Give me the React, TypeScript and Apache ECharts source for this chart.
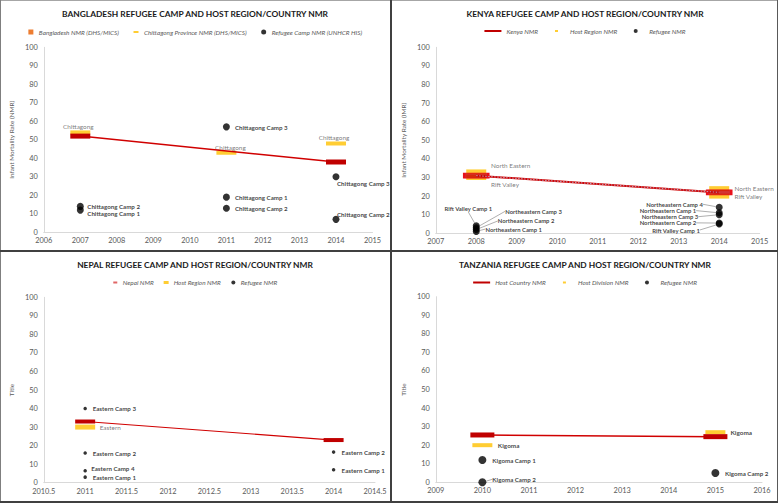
import React, { useEffect, useRef } from "react";
import * as echarts from "echarts";

const FONT = "Lato, 'Open Sans', 'DejaVu Sans', sans-serif";
const RED = "#C00000";
const YELLOW = "#FFC000";
const BLACK = "#000000";
const ORANGE = "#ED7D31";
const AXIS_GRAY = "#D9D9D9";
const TEXT_GRAY = "#595959";

// ---------------- Bangladesh ----------------
const bdTitle = "BANGLADESH REFUGEE CAMP AND HOST REGION/COUNTRY NMR";
const bdNames = ["Bangladesh NMR (DHS/MICS)", "Chittagong Province NMR (DHS/MICS)", "Refugee Camp NMR (UNHCR HIS)"];
const bdYAxisName = "Infant Mortality Rate (NMR)";
const bdXRange = [2006, 2015, 1];
const bdNationalYears = [2007, 2014];
const bdNationalValues = [52, 38];
const bdRegionYears = [2007, 2011, 2014];
const bdRegionValues = [54, 43, 48];
const bdRegionNames = ["Chittagong", "Chittagong", "Chittagong"];
const bdCampYears = [2007, 2007, 2011, 2011, 2011, 2014, 2014];
const bdCampValues = [14, 12, 57, 19, 13, 30, 7];
const bdCampNames = ["Chittagong Camp 2", "Chittagong Camp 1", "Chittagong Camp 3", "Chittagong Camp 1", "Chittagong Camp 2", "Chittagong Camp 3", "Chittagong Camp 2"];

// ---------------- Kenya ----------------
const keTitle = "KENYA REFUGEE CAMP AND HOST REGION/COUNTRY NMR";
const keNames = ["Kenya NMR", "Host Region NMR", "Refugee NMR"];
const keYAxisName = "Infant Mortality Rate (IMR)";
const keXRange = [2007, 2015, 1];
const keNationalYears = [2008, 2014];
const keNationalValues = [31, 22];
const keRegionYears = [2008, 2008, 2014, 2014];
const keRegionValues = [33, 30, 24, 20];
const keRegionNames = ["North Eastern", "Rift Valley", "North Eastern", "Rift Valley"];
const keCampYears = [2008, 2008, 2008, 2008, 2014, 2014, 2014, 2014, 2014];
const keCampValues = [4, 3, 2, 1, 14, 11, 10, 5.5, 5];
const keCampNames = ["Rift Valley Camp 1", "Northeastern Camp 3", "Northeastern Camp 2", "Northeastern Camp 1", "Northeastern Camp 4", "Northeastern Camp 1", "Northeastern Camp 3", "Northeastern Camp 2", "Rift Valley Camp 1"];

// ---------------- Nepal ----------------
const npTitle = "NEPAL REFUGEE CAMP AND HOST REGION/COUNTRY NMR";
const npNames = ["Nepal NMR", "Host Region NMR", "Refugee NMR"];
const npYAxisName = "Title";
const npXRange = [2010.5, 2014.5, 0.5];
const npNationalYears = [2011, 2014];
const npNationalValues = [33, 23];
const npRegionYears = [2011];
const npRegionValues = [30];
const npRegionNames = ["Eastern"];
const npCampYears = [2011, 2011, 2011, 2011, 2014, 2014];
const npCampValues = [40, 16, 6.5, 3, 16.5, 7];
const npCampNames = ["Eastern Camp 3", "Eastern Camp 2", "Eastern Camp 4", "Eastern Camp 1", "Eastern Camp 2", "Eastern Camp 1"];

// ---------------- Tanzania ----------------
const tzTitle = "TANZANIA REFUGEE CAMP AND HOST REGION/COUNTRY NMR";
const tzNames = ["Host Country NMR", "Host Division NMR", "Refugee NMR"];
const tzYAxisName = "Title";
const tzXRange = [2009, 2016, 1];
const tzNationalYears = [2010, 2015];
const tzNationalValues = [25.5, 24.6];
const tzRegionYears = [2010, 2015];
const tzRegionValues = [20, 27];
const tzRegionNames = ["Kigoma", "Kigoma"];
const tzCampYears = [2010, 2010, 2015];
const tzCampValues = [12, 0, 5];
const tzCampNames = ["Kigoma Camp 1", "Kigoma Camp 2", "Kigoma Camp 2"];

// ---------------- label placement (layout only) ----------------
type Place = [string, number, number, number?];
const bdRegionPlace: Place[] = [["center", -2, -6.4], ["center", 4, -5], ["center", -2, -6.2]];
const bdCampPlace: Place[] = [["left", 7, 0], ["left", 7, 3.2], ["left", 8.5, 0.8], ["left", 8.5, 0], ["left", 8.5, 0.4], ["left", 1, 6.5], ["left", 1, -4.4]];
const keRegionPlace: Place[] = [["left", 14.8, -6.3], ["left", 14.8, 6.8], ["left", 15.3, 0.3], ["left", 15.3, 0.6]];
const keCampPlace: Place[] = [
  ["right", 16, -17, 1], ["left", 29, -16.5, 1], ["left", 21.5, -8.6, 1], ["left", 9.2, -2.4, 1],
  ["right", -16.4, -3, 1], ["right", -23, -2.2, 1], ["right", -21, 2, 1], ["right", -23, -0.2, 1], ["right", -19.4, 6, 1],
];
const npRegionPlace: Place[] = [["left", 14.5, 0.3]];
const npCampPlace: Place[] = [["left", 7.5, 0.3], ["left", 7.5, 0], ["left", 6, -1.7], ["left", 7.5, 0], ["left", 8, 0], ["left", 8, 0.7]];
const tzRegionPlace: Place[] = [["left", 15.5, 0.5], ["left", 15, 0]];
const tzCampPlace: Place[] = [["left", 10, 0], ["left", 10, -3, 1], ["left", 9.5, 0]];

// ---------------- icons ----------------
const lineIcon = (w: number, h: number, t: number) => `path://M0,0M${w},${h}M0,${(h - t) / 2}h${w}v${t}h${-w}z`;
const dashIcon = (w: number, h: number, dw: number, t: number) =>
  `path://M0,0M${w},${h}M${(w - dw) / 2},${(h - t) / 2}h${dw}v${t}h${-dw}z`;
const dotIcon = (w: number, h: number, r: number) =>
  `path://M0,0M${w},${h}M${w / 2 - r},${h / 2}a${r},${r} 0 1 0 ${2 * r},0a${r},${r} 0 1 0 ${-2 * r},0z`;

function scatterData(xs: number[], ys: number[], names: string[], places: Place[]) {
  return xs.map((x, i) => ({
    value: [x, ys[i]],
    name: names[i],
    label: { align: places[i][0] },
    labelLine: { show: !!places[i][3] },
  }));
}

interface Cfg {
  title: string;
  titleTop: number;
  names: string[];
  legendTop: number;
  legendIcons: string[];
  legendColors: string[];
  legendItemWidth: number;
  legendGap: number;
  grid: { left: number; top: number; width: number; height: number };
  xRange: number[];
  yName: string;
  yNameGap: number;
  nationalYears: number[];
  nationalValues: number[];
  nationalSize: number[];
  nationalStyle: any;
  nationalLineWidth: number;
  trendOverlay?: boolean;
  regionYears: number[];
  regionValues: number[];
  regionNames: string[];
  regionPlace: Place[];
  regionSize: number[];
  regionLabelBold?: boolean;
  campYears: number[];
  campValues: number[];
  campNames: string[];
  campPlace: Place[];
  campSize: number;
  campFont?: number;
}

function buildOption(c: Cfg) {
  const layoutFrom = (places: Place[]) => (params: any) => {
    const p = places[params.dataIndex];
    return { dx: p[1], dy: p[2] };
  };
  const nationalData = c.nationalYears.map((x, i) => [x, c.nationalValues[i]]);
  const series: any[] = [
    {
      type: "scatter",
      name: c.names[1],
      data: scatterData(c.regionYears, c.regionValues, c.regionNames, c.regionPlace),
      symbol: "rect",
      symbolSize: c.regionSize,
      itemStyle: { color: YELLOW },
      label: {
        show: true,
        position: "inside",
        formatter: "{b}",
        fontSize: 6.4,
        fontFamily: FONT,
        fontWeight: c.regionLabelBold ? "bold" : "normal",
        color: c.regionLabelBold ? "#0D0D0D" : TEXT_GRAY,
        verticalAlign: "middle",
      },
      labelLayout: layoutFrom(c.regionPlace),
      z: 2,
    },
    {
      type: "line",
      name: c.names[0],
      data: nationalData,
      symbol: "rect",
      symbolSize: c.nationalSize,
      showSymbol: true,
      lineStyle: { color: "#D00000", width: c.nationalLineWidth },
      itemStyle: c.nationalStyle,
      z: 3,
    },
  ];
  if (c.trendOverlay) {
    series.push({
      type: "line",
      name: "trend",
      data: nationalData,
      symbol: "none",
      lineStyle: { color: "#B4C7E7", width: 0.8, type: [1.5, 1.5] },
      z: 4,
    });
  }
  series.push({
    type: "scatter",
    name: c.names[2],
    data: scatterData(c.campYears, c.campValues, c.campNames, c.campPlace),
    symbol: "circle",
    symbolSize: c.campSize,
    itemStyle: { color: BLACK },
    label: {
      show: true,
      position: "inside",
      formatter: "{b}",
      fontSize: c.campFont || 6.2,
      fontFamily: FONT,
      fontWeight: "bold",
      color: "#0D0D0D",
      verticalAlign: "middle",
    },
    labelLine: { show: false, lineStyle: { color: "#8C8C8C", width: 0.7 }, length2: 0 },
    labelLayout: layoutFrom(c.campPlace),
    z: 5,
  });

  return {
    animation: false,
    textStyle: { fontFamily: FONT },
    title: {
      text: c.title,
      left: "center",
      top: c.titleTop,
      padding: 0,
      textStyle: { fontSize: 8.4, fontWeight: "bold", color: "#1A1A1A", fontFamily: FONT },
    },
    legend: {
      top: c.legendTop,
      left: "center",
      padding: 0,
      itemWidth: c.legendItemWidth,
      itemHeight: 7,
      itemGap: c.legendGap,
      selectedMode: false,
      textStyle: { fontSize: 6.4, fontStyle: "italic", color: TEXT_GRAY, fontFamily: FONT },
      data: c.names.map((n, i) => ({
        name: n,
        icon: c.legendIcons[i],
        itemStyle: { color: c.legendColors[i], borderWidth: 0 },
      })),
    },
    grid: { ...c.grid, containLabel: false },
    xAxis: {
      type: "value",
      min: c.xRange[0],
      max: c.xRange[1],
      interval: c.xRange[2],
      axisLine: { show: true, lineStyle: { color: AXIS_GRAY, width: 1 } },
      axisTick: { show: false },
      splitLine: { show: false },
      axisLabel: {
        fontSize: 7.4,
        color: TEXT_GRAY,
        fontFamily: FONT,
        margin: 5,
        formatter: (v: number) => String(v),
      },
    },
    yAxis: {
      type: "value",
      min: 0,
      max: 100,
      interval: 10,
      name: c.yName,
      nameLocation: "middle",
      nameGap: c.yNameGap,
      nameTextStyle: { fontSize: 6.4, color: TEXT_GRAY, fontFamily: FONT },
      axisLine: { show: true, lineStyle: { color: AXIS_GRAY, width: 1 } },
      axisTick: { show: false },
      splitLine: { show: false },
      axisLabel: { fontSize: 7.4, color: TEXT_GRAY, fontFamily: FONT, margin: 6 },
    },
    series,
  };
}

const redFill = { color: RED };
const keRedStyle = { color: "rgba(200,0,0,0.8)", borderColor: "#E8101A", borderWidth: 1.2 };

const bdOption = buildOption({
  title: bdTitle,
  titleTop: 10,
  names: bdNames,
  legendTop: 28.5,
  legendIcons: [dashIcon(6, 7, 5, 5), dashIcon(6, 7, 5, 2), dotIcon(6, 7, 2.5)],
  legendColors: [ORANGE, YELLOW, BLACK],
  legendItemWidth: 6,
  legendGap: 14,
  grid: { left: 41.5, top: 47.3, width: 331, height: 185 },
  xRange: bdXRange,
  yName: bdYAxisName,
  yNameGap: 23,
  nationalYears: bdNationalYears,
  nationalValues: bdNationalValues,
  nationalSize: [20, 5],
  nationalStyle: redFill,
  nationalLineWidth: 1.5,
  regionYears: bdRegionYears,
  regionValues: bdRegionValues,
  regionNames: bdRegionNames,
  regionPlace: bdRegionPlace,
  regionSize: [20, 4],
  campYears: bdCampYears,
  campValues: bdCampValues,
  campNames: bdCampNames,
  campPlace: bdCampPlace,
  campSize: 7,
});

const keOption = buildOption({
  title: keTitle,
  titleTop: 10,
  names: keNames,
  legendTop: 27.5,
  legendIcons: [lineIcon(17, 7, 2), dashIcon(17, 7, 3, 2), dotIcon(17, 7, 2)],
  legendColors: [RED, YELLOW, BLACK],
  legendItemWidth: 17,
  legendGap: 10,
  grid: { left: 37.7, top: 47.3, width: 330, height: 186 },
  xRange: keXRange,
  yName: keYAxisName,
  yNameGap: 23,
  nationalYears: keNationalYears,
  nationalValues: keNationalValues,
  nationalSize: [24, 5],
  nationalStyle: keRedStyle,
  nationalLineWidth: 2,
  trendOverlay: true,
  regionYears: keRegionYears,
  regionValues: keRegionValues,
  regionNames: keRegionNames,
  regionPlace: keRegionPlace,
  regionSize: [20, 5],
  campYears: keCampYears,
  campValues: keCampValues,
  campNames: keCampNames,
  campPlace: keCampPlace,
  campSize: 7,
  campFont: 5.9,
});

const npOption = buildOption({
  title: npTitle,
  titleTop: 9,
  names: npNames,
  legendTop: 27,
  legendIcons: [dashIcon(5, 7, 4, 2), dashIcon(5, 7, 5, 3), dotIcon(5, 7, 2)],
  legendColors: ["#E06666", YELLOW, BLACK],
  legendItemWidth: 5,
  legendGap: 10,
  grid: { left: 40, top: 45.3, width: 335, height: 185.4 },
  xRange: npXRange,
  yName: npYAxisName,
  yNameGap: 21.5,
  nationalYears: npNationalYears,
  nationalValues: npNationalValues,
  nationalSize: [20, 4],
  nationalStyle: redFill,
  nationalLineWidth: 1.2,
  regionYears: npRegionYears,
  regionValues: npRegionValues,
  regionNames: npRegionNames,
  regionPlace: npRegionPlace,
  regionSize: [20, 5],
  campYears: npCampYears,
  campValues: npCampValues,
  campNames: npCampNames,
  campPlace: npCampPlace,
  campSize: 3.5,
});

const tzOption = buildOption({
  title: tzTitle,
  titleTop: 9,
  names: tzNames,
  legendTop: 27,
  legendIcons: [lineIcon(17, 7, 2), dashIcon(17, 7, 3, 2), dotIcon(17, 7, 2)],
  legendColors: [RED, YELLOW, BLACK],
  legendItemWidth: 17,
  legendGap: 10,
  grid: { left: 39.3, top: 44.7, width: 330.7, height: 185.6 },
  xRange: tzXRange,
  yName: tzYAxisName,
  yNameGap: 20,
  nationalYears: tzNationalYears,
  nationalValues: tzNationalValues,
  nationalSize: [24, 5],
  nationalStyle: redFill,
  nationalLineWidth: 1.5,
  regionYears: tzRegionYears,
  regionValues: tzRegionValues,
  regionNames: tzRegionNames,
  regionPlace: tzRegionPlace,
  regionSize: [20, 4],
  regionLabelBold: true,
  campYears: tzCampYears,
  campValues: tzCampValues,
  campNames: tzCampNames,
  campPlace: tzCampPlace,
  campSize: 8,
});

function Panel({ left, top, width, height, option }: { left: number; top: number; width: number; height: number; option: any }) {
  const ref = useRef<HTMLDivElement>(null);
  useEffect(() => {
    if (!ref.current) return;
    const chart = echarts.init(ref.current, undefined, { renderer: "svg" });
    chart.setOption(option);
    return () => chart.dispose();
  }, [option]);
  return <div ref={ref} style={{ position: "absolute", left, top, width, height }} />;
}

const line = (left: number, top: number, width: number, height: number, bg: string) => (
  <div style={{ position: "absolute", left, top, width, height, background: bg, zIndex: 10 }} />
);

export default function App() {
  return (
    <div style={{ position: "absolute", left: 0, top: 0, width: 778, height: 503, background: "#fff", overflow: "hidden" }}>
      <Panel left={0} top={0} width={390} height={250} option={bdOption} />
      <Panel left={392} top={0} width={386} height={250} option={keOption} />
      <Panel left={0} top={252} width={390} height={251} option={npOption} />
      <Panel left={392} top={252} width={386} height={251} option={tzOption} />
      {line(0, 0, 778, 1, "#A6A6A6")}
      {line(0, 0, 1, 503, "#7F7F7F")}
      {line(777, 0, 1, 503, "#595959")}
      {line(0, 501, 778, 2, "#404040")}
      {line(390, 0, 2, 503, "#404040")}
      {line(0, 250, 778, 2, "#404040")}
    </div>
  );
}
